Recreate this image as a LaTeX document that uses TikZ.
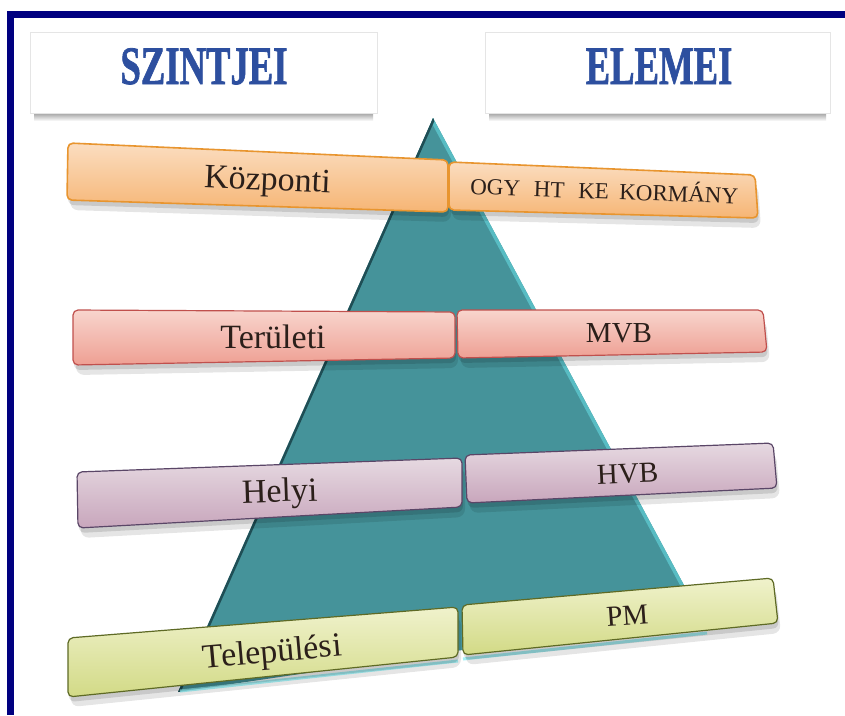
\documentclass[tikz,border=0pt]{standalone}
\usepackage{fontspec}
\usepackage{graphicx}
\setmainfont{Liberation Serif}
\newfontfamily\hdrfont{Liberation Serif}[BoldFeatures={FakeBold=1.5}]
\definecolor{navyb}{HTML}{000080}
\definecolor{hblue}{HTML}{2D4F9F}
\definecolor{pyrfill}{HTML}{45939A}
\definecolor{pyrdark}{HTML}{1F4E55}
\definecolor{pyrlight}{HTML}{58BCC3}
\definecolor{glowc}{HTML}{8FEFF5}
\definecolor{orTop}{HTML}{FBDDC0}\definecolor{orBot}{HTML}{F6B574}\definecolor{orLine}{HTML}{E8952F}
\definecolor{rdTop}{HTML}{F8D5CD}\definecolor{rdBot}{HTML}{EE9F93}\definecolor{rdLine}{HTML}{C0504D}
\definecolor{puTop}{HTML}{E6D9E1}\definecolor{puBot}{HTML}{C8A6BC}\definecolor{puLine}{HTML}{5A4667}
\definecolor{grTop}{HTML}{F0F2CC}\definecolor{grBot}{HTML}{D2DA86}\definecolor{grLine}{HTML}{5E6A25}
\definecolor{txtc}{HTML}{2B1F1A}
\tikzset{
  orbar/.style={top color=orTop,bottom color=orBot,draw=orLine,line width=1.6pt},
  rdbar/.style={top color=rdTop,bottom color=rdBot,draw=rdLine,line width=1.2pt},
  pubar/.style={top color=puTop,bottom color=puBot,draw=puLine,line width=1.2pt},
  grbar/.style={top color=grTop,bottom color=grBot,draw=grLine,line width=1.2pt},
  lbl/.style={font=\fontsize{34}{40}\selectfont,text=txtc,inner sep=0pt,anchor=base},
  vlbl/.style={font=\fontsize{29}{34}\selectfont,text=txtc,inner sep=0pt,anchor=base},
  smlbl/.style={font=\fontsize{23}{28}\selectfont,text=txtc,inner sep=0pt,anchor=base},
  hdrtxt/.style={font=\hdrfont\fontsize{47}{50}\selectfont\bfseries,text=hblue,inner sep=0pt,anchor=base},
  hdrbox/.style={fill=white,draw=black!10,line width=0.6pt}
}
\newcommand\barbox[5]{%
  \begin{scope}[shift={(3,10)}]
    \fill[black,opacity=.10,rounded corners=8pt] #2 -- #3 -- #4 -- #5 -- cycle;
  \end{scope}
  \begin{scope}[shift={(1,5)}]
    \fill[black,opacity=.12,rounded corners=6pt] #2 -- #3 -- #4 -- #5 -- cycle;
  \end{scope}
  \path[#1,rounded corners=5pt] #2 -- #3 -- #4 -- #5 -- cycle;}
\begin{document}
\begin{tikzpicture}[x=1pt,y=-1pt]
\useasboundingbox (0,0) rectangle (845,715);
\fill[white] (0,0) rectangle (845,715);
% frame
\fill[navyb] (7,11) rectangle (845,18);
\fill[navyb] (7,11) rectangle (14,715);
% header boxes
\shade[top color=black!50,bottom color=white] (34,110) rectangle (373,121);
\shade[top color=black!50,bottom color=white] (489,110) rectangle (826,121);
\path[hdrbox] (30,32) rectangle (377,113);
\path[hdrbox] (485,32) rectangle (830,113);
\node[hdrtxt] (szint) at (204,84) {\scalebox{0.78}[1.15]{SZINTJEI}};
\node[hdrtxt] (elem) at (659,84) {\scalebox{0.78}[1.15]{ELEMEI}};
% pyramid
\fill[pyrfill] (433,118) -- (178,692) -- (700,615) -- cycle;
\begin{scope}
  \clip (433,118) -- (178,692) -- (700,615) -- cycle;
  \draw[pyrlight,line width=7pt] (433,118) -- (700,615);
  \draw[pyrdark,line width=5pt] (433,118) -- (178,692);
\end{scope}
% glow under the base row
\draw[glowc,line width=3pt,opacity=.8] (180,691) -- (458,661);
\draw[glowc,line width=3pt,opacity=.8] (463,659) -- (707,633);
% bars
\barbox{orbar}{(68,143)}{(448,160)}{(448,212)}{(67,200)}
\barbox{orbar}{(449,162)}{(755,175)}{(758,218)}{(449,210)}
\barbox{rdbar}{(73,310)}{(455,312)}{(455,358)}{(73,365)}
\barbox{rdbar}{(457,310)}{(763,310)}{(767,352)}{(458,358)}
\barbox{pubar}{(77,472)}{(462,458)}{(462,507)}{(78,528)}
\barbox{pubar}{(465,455)}{(773,443)}{(777,488)}{(467,503)}
\barbox{grbar}{(68,638)}{(458,607)}{(458,657)}{(68,697)}
\barbox{grbar}{(462,605)}{(773,578)}{(778,623)}{(463,655)}
% labels
\node[lbl,rotate=-2.5] (kozp) at (267,190) {Központi};
\node[smlbl,rotate=-2] (ogy) at (604,199) {OGY\hspace{0.35em} HT\hspace{0.35em} KE\hspace{0.2em} KORMÁNY};
\node[lbl] (ter) at (273,348) {Területi};
\node[vlbl] (mvb) at (619,342) {MVB};
\node[lbl,rotate=2] (hely) at (280,502) {Helyi};
\node[vlbl,rotate=2.5] (hvb) at (628,483) {HVB};
\node[lbl,rotate=5] (tel) at (273,662) {Települési};
\node[vlbl,rotate=4] (pm) at (628,625) {PM};
\end{tikzpicture}
\end{document}
